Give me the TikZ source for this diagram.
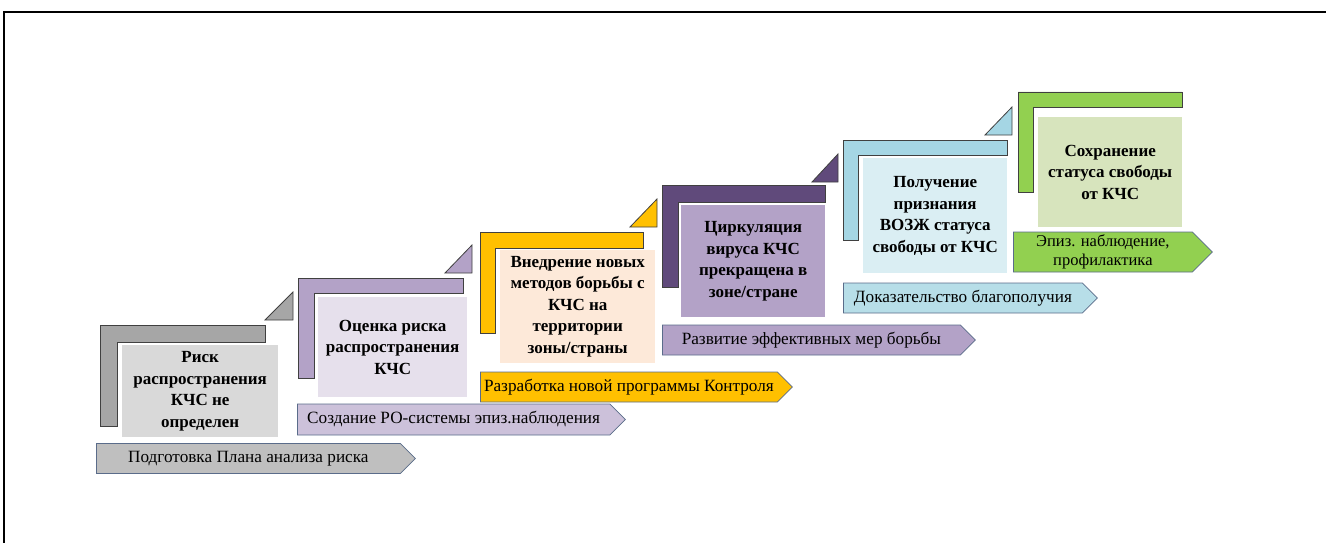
\documentclass[tikz,border=0pt]{standalone}
\usepackage{fontspec}
\setmainfont{Liberation Serif}
\usepackage{tikz}
\usepackage{xcolor}
\usetikzlibrary{positioning}
\usetikzlibrary{shapes.symbols}
\definecolor{graybar}{RGB}{166,166,166}
\definecolor{graybox}{RGB}{217,217,217}
\definecolor{grayarrow}{RGB}{191,191,191}
\definecolor{lilac}{RGB}{179,162,199}
\definecolor{lilacpale}{RGB}{230,224,236}
\definecolor{lilacarrow}{RGB}{204,193,218}
\definecolor{gold}{RGB}{255,192,0}
\definecolor{peach}{RGB}{253,233,217}
\definecolor{plum}{RGB}{96,74,123}
\definecolor{skybar}{RGB}{165,214,228}
\definecolor{skybox}{RGB}{218,238,243}
\definecolor{skyarrow}{RGB}{183,222,232}
\definecolor{lime}{RGB}{146,208,80}
\definecolor{sage}{RGB}{215,228,189}
\definecolor{rim}{RGB}{64,64,64}
\definecolor{arrowrim}{RGB}{90,108,138}

\begin{document}
\begin{tikzpicture}[x=1pt, y=-1pt]
	\tikzstyle{bracket} = [draw=rim, line width=0.8pt]
	\tikzstyle{corner} = [draw=rim, line width=0.8pt]
	\tikzstyle{stepbox} = [anchor=north west, inner sep=2pt, align=center, font=\fontsize{17}{21.5}\selectfont\bfseries]
	\tikzstyle{stagearrow} = [signal, signal to=east, signal pointer angle=90, draw=arrowrim, line width=0.8pt, anchor=west, inner sep=2pt, align=center, font=\fontsize{17.2}{20}\selectfont]

	\useasboundingbox (0,0) rectangle (1326,543);
	\draw[line width=1.6pt] (4,543) -- (4,12) -- (1326,12);

	% brackets
	\draw[bracket, fill=graybar] (100,325) -- (265,325) -- (265,342) -- (117,342) -- (117,426) -- (100,426) -- cycle;
	\draw[bracket, fill=lilac] (298,278) -- (463,278) -- (463,293) -- (314,293) -- (314,378) -- (298,378) -- cycle;
	\draw[bracket, fill=gold] (480,232) -- (643,232) -- (643,248) -- (495,248) -- (495,333) -- (480,333) -- cycle;
	\draw[bracket, fill=plum] (662,185) -- (825,185) -- (825,202) -- (678,202) -- (678,287) -- (662,287) -- cycle;
	\draw[bracket, fill=skybar] (843,140) -- (1007,140) -- (1007,155) -- (858,155) -- (858,240) -- (843,240) -- cycle;
	\draw[bracket, fill=lime] (1018,92) -- (1182,92) -- (1182,107) -- (1033,107) -- (1033,192) -- (1018,192) -- cycle;

	% corners
	\draw[corner, fill=graybar] (265,320) -- (293,320) -- (293,292) -- cycle;
	\draw[corner, fill=lilac] (445,273) -- (472,273) -- (472,245) -- cycle;
	\draw[corner, fill=gold] (630,227) -- (657,227) -- (657,199) -- cycle;
	\draw[corner, fill=plum] (812,182) -- (838,182) -- (838,154) -- cycle;
	\draw[corner, fill=skybar] (985,135) -- (1012,135) -- (1012,107) -- cycle;

	% steps
	\node (risk) [stepbox, fill=graybox, minimum width=156pt, minimum height=92pt] at (122,345) {Риск\\распространения\\КЧС не\\определен};
	\node (assess) [stepbox, fill=lilacpale, minimum width=149pt, minimum height=100pt] at (318,297) {Оценка риска\\распространения\\КЧС};
	\node (methods) [stepbox, fill=peach, minimum width=155pt, minimum height=113pt] at (500,250) {Внедрение новых\\методов борьбы с\\КЧС на\\территории\\зоны/страны};
	\node (stopped) [stepbox, fill=lilac, minimum width=144pt, minimum height=112pt] at (681,205) {Циркуляция\\вируса КЧС\\прекращена в\\зоне/стране};
	\node (status) [stepbox, fill=skybox, minimum width=144pt, minimum height=115pt] at (863,158) {Получение\\признания\\ВОЗЖ статуса\\свободы от КЧС};
	\node (keep) [stepbox, fill=sage, minimum width=144pt, minimum height=110pt] at (1038,117) {Сохранение\\статуса свободы\\от КЧС};

	% arrows
	\node (plan) [stagearrow, fill=grayarrow, minimum width=319pt, minimum height=30pt] at (96,458.5) {Подготовка Плана анализа риска};
	\node (watch) [stagearrow, fill=lilacarrow, minimum width=328pt, minimum height=31pt] at (297,419.5) {Создание РО-системы эпиз.наблюдения};
	\node (program) [stagearrow, fill=gold, minimum width=312pt, minimum height=30pt] at (480,387) {Разработка новой программы Контроля};
	\node (measures) [stagearrow, fill=lilac, minimum width=313pt, minimum height=30pt] at (662,340) {Развитие эффективных мер борьбы};
	\node (proof) [stagearrow, fill=skyarrow, minimum width=254pt, minimum height=30pt] at (843,298) {Доказательство благополучия};
	\node (prevent) [stagearrow, fill=lime, minimum width=199pt, minimum height=40pt, font=\fontsize{16.5}{19}\selectfont] at (1013,252) {Эпиз. наблюдение,\\профилактика};
\end{tikzpicture}
\end{document}
